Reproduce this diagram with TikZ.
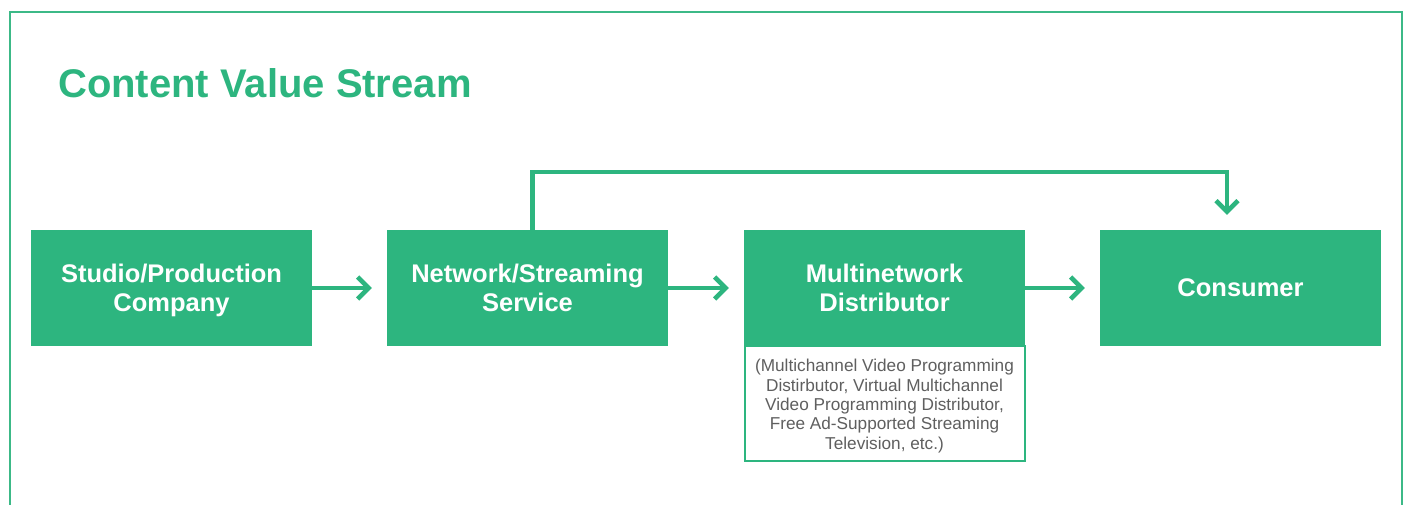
\documentclass[tikz,border=0pt]{standalone}
\usepackage{fontspec}
\setmainfont{Liberation Sans}
\usetikzlibrary{arrows.meta}
\definecolor{cvgreen}{RGB}{45,181,127}
\definecolor{cvframe}{RGB}{60,185,135}
\definecolor{cvgray}{RGB}{95,95,95}
% centred multi-line text, set a little below the node centre
\newcommand{\stagetext}[1]{\raisebox{-3pt}[\height][\depth]{\begin{tabular}{@{}c@{}}#1\end{tabular}}}
\tikzset{
  stage/.style={fill=cvgreen, text=white, minimum width=281pt, minimum height=116pt,
    inner sep=0pt, align=center, font=\fontsize{25.5}{29}\selectfont\bfseries},
  notebox/.style={draw=cvgreen, line width=2pt, fill=white, text=cvgray,
    minimum width=280pt, minimum height=115pt, inner sep=0pt, align=center,
    font=\fontsize{17.2}{19.3}\selectfont},
  flow/.style={draw=cvgreen, line width=4.5pt,
    -{Straight Barb[length=11pt,width=22pt]}, shorten >=15pt}
}
\begin{document}
\begin{tikzpicture}[x=1pt,y=-1pt]
  \useasboundingbox (0,0) rectangle (1406,504);
  % outer frame, open at the bottom edge
  \begin{scope}
    \clip (0,0) rectangle (1406,504);
    \draw[cvframe, line width=2pt] (9.5,11.5) rectangle (1401.5,560);
  \end{scope}
  % title
  \node[anchor=base west, text=cvgreen, inner sep=0pt,
        font=\fontsize{40}{48}\selectfont\bfseries] (title) at (58,97) {Content Value Stream};
  % stages
  \node[stage] (studio)   at (171.5,288)  {\stagetext{Studio/Production\\Company}};
  \node[stage] (network)  at (527.5,288)  {\stagetext{Network/Streaming\\Service}};
  \node[stage] (mnd)      at (884.5,288)  {\stagetext{Multinetwork\\Distributor}};
  \node[stage] (consumer) at (1240.5,288) {Consumer};
  % note under the distributor
  \node[notebox, anchor=north] (mndnote) at ([yshift=1pt]mnd.south)
    {\stagetext{(Multichannel Video Programming\\Distirbutor, Virtual Multichannel\\Video Programming Distributor,\\Free Ad-Supported Streaming\\Television, etc.)}};
  % connectors
  \draw[flow] (studio.east) -- (network.west);
  \draw[flow] (network.east) -- (mnd.west);
  \draw[flow] (mnd.east) -- (consumer.west);
  \draw[flow] ([xshift=5pt]network.north) -- ++(0,-58)
    -| ([xshift=-13.5pt]consumer.north);
\end{tikzpicture}
\end{document}
